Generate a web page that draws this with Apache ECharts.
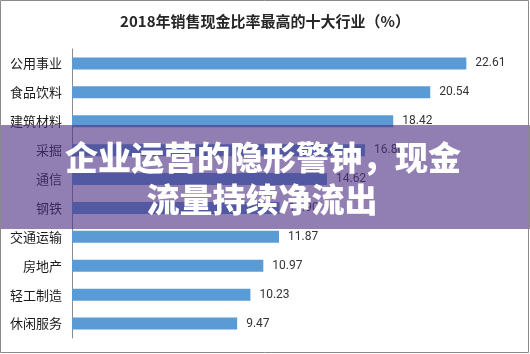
<!DOCTYPE html>
<html>
<head>
<meta charset="utf-8">
<script src="https://cdn.jsdelivr.net/npm/echarts@6/dist/echarts.min.js"></script>
<style>
html,body{margin:0;padding:0;background:#fff;}
#c{width:530px;height:354px;}
</style>
</head>
<body>
<div id="c"></div>
<script>
var categories = ['公用事业','食品饮料','建筑材料','采掘','通信','钢铁','交通运输','房地产','轻工制造','休闲服务'];
var values = [22.61, 20.54, 18.42, 16.80, 14.62, 11.90, 11.87, 10.97, 10.23, 9.47];
var titleText = '2018年销售现金比率最高的十大行业（%）';
var bannerLines = ['企业运营的隐形警钟，现金', '流量持续净流出'];

var FONT = '"Noto Sans CJK SC", "Microsoft YaHei", sans-serif';
var chart = echarts.init(document.getElementById('c'), null, {renderer: 'canvas'});
chart.setOption({
  animation: false,
  backgroundColor: '#fff',
  title: {
    text: titleText,
    left: 'center',
    top: 9,
    textStyle: {fontFamily: FONT, fontSize: 15, fontWeight: 'bold', color: '#262626'}
  },
  grid: {left: 72, right: 22, top: 49, bottom: 16, containLabel: false},
  xAxis: {
    type: 'value', min: 0, max: 25,
    show: false
  },
  yAxis: {
    type: 'category',
    data: categories,
    inverse: true,
    axisLine: {show: true, lineStyle: {color: '#8c8c8c', width: 1}},
    axisTick: {show: false},
    axisLabel: {fontFamily: FONT, fontSize: 13, color: '#1a1a1a', margin: 10}
  },
  series: [{
    type: 'bar',
    data: values,
    barWidth: 12,
    itemStyle: {color: '#5b9bd5'},
    label: {
      show: true, position: 'right', distance: 9,
      fontFamily: 'Roboto, "DejaVu Sans", sans-serif', fontSize: 12, color: '#333',
      formatter: function(p){ return p.value.toFixed(2); }
    }
  }],
  graphic: [
    {type: 'rect', z: 100, shape: {x: 0, y: 125, width: 530, height: 104},
     style: {fill: 'rgba(78,46,130,0.62)'}},
    {type: 'text', z: 101, x: 263, y: 157,
     style: {text: bannerLines[0], fill: '#fff', font: '900 33px ' + FONT,
       textAlign: 'center', textVerticalAlign: 'middle',
       shadowBlur: 3, shadowColor: 'rgba(0,0,0,0.35)'}},
    {type: 'text', z: 101, x: 262, y: 199,
     style: {text: bannerLines[1], fill: '#fff', font: '900 33px ' + FONT,
       textAlign: 'center', textVerticalAlign: 'middle',
       shadowBlur: 3, shadowColor: 'rgba(0,0,0,0.35)'}},
    {type: 'rect', z: 102, shape: {x: 0.5, y: 0.5, width: 528, height: 352},
     style: {fill: 'none', stroke: '#8a8a8a', lineWidth: 1}}
  ]
});
</script>
</body>
</html>
